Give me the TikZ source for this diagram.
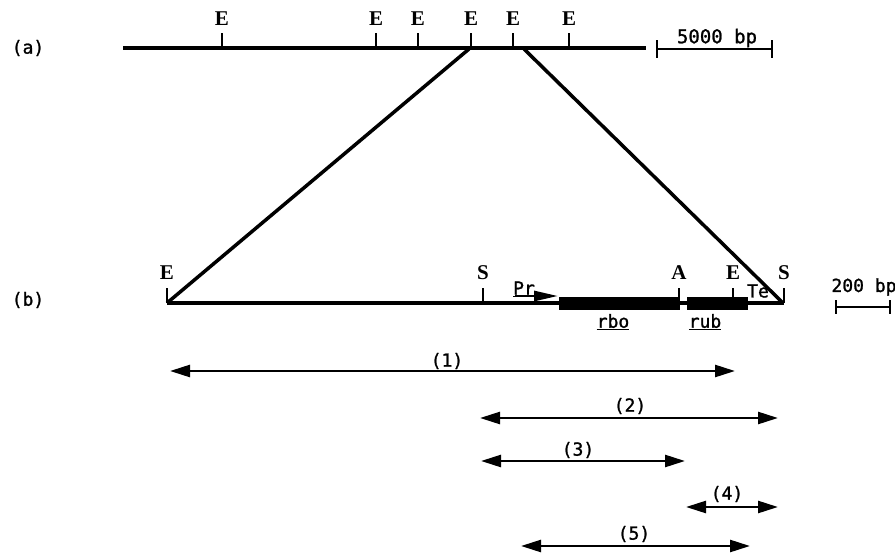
\documentclass[tikz,border=0pt]{standalone}
\usepackage{fontspec}
\setmainfont{Liberation Serif}
\newfontfamily\lblfont[FakeBold=1.2]{DejaVu Sans Mono}
\usetikzlibrary{arrows.meta,calc}
\begin{document}
\begin{tikzpicture}[x=1pt,y=-1pt,
  mainline/.style={line width=4.2pt},
  zoomline/.style={line width=3.5pt},
  tick/.style={line width=2.6pt},
  site/.style={font=\bfseries\fontsize{21}{21}\selectfont, inner sep=0pt},
  lbl/.style={font=\lblfont\fontsize{19}{19}\selectfont, inner sep=0pt},
  small/.style={font=\lblfont\fontsize{18}{18}\selectfont, inner sep=0pt},
  num/.style={font=\lblfont\fontsize{18}{18}\selectfont, inner sep=0pt},
  frag/.style={line width=2.5pt, {Triangle[length=20pt,width=12pt]}-{Triangle[length=20pt,width=12pt]}},
  gene/.style={fill=black, draw=none}]
\useasboundingbox (0,0) rectangle (895,554);
% (a)
\node[small] (la) at (28,48) {(a)};
\coordinate (a0) at (123,48);
\coordinate (a1) at (646,48);
\draw[mainline] (a0) -- (a1);
\foreach \x/\n in {222/1,376/2,418/3,471/4,513/5,569/6}{
  \coordinate (t\n) at (\x,48);
  \draw[tick] (t\n) -- ++(0,-15);
  \node[site] (e\n) at (\x,19) {E};
}
% scale 5000 bp
\coordinate (s0) at (657,49);
\coordinate (s1) at (772,49);
\draw[tick] (s0) -- (s1);
\draw[tick] ($(s0)+(0,-9)$) -- ($(s0)+(0,9)$);
\draw[tick] ($(s1)+(0,-9)$) -- ($(s1)+(0,9)$);
\node[lbl] (sl) at (717,38) {5000 bp};
% (b)
\node[small] (lb) at (28,300) {(b)};
\coordinate (b0) at (167,303);
\coordinate (b1) at (784,303);
\draw[mainline] (b0) -- (b1);
% zoom lines
\coordinate (z0) at (469,49);
\coordinate (z1) at (524,49);
\draw[zoomline] (z0) -- (b0);
\draw[zoomline] (z1) -- (782,302);
% sites on b
\foreach \x/\l/\n in {167/E/1,483/S/2,679/A/3,733/E/4,784/S/5}{
  \coordinate (u\n) at (\x,303);
  \draw[tick] (u\n) -- ++(0,-15);
  \node[site] (f\n) at (\x,273) {\l};
}
% genes
\fill[gene] (559,297) rectangle (680,310);
\fill[gene] (687,297) rectangle (748,310);
\node[small] (rbo) at (613,322) {\underline{rbo}};
\node[small] (rub) at (705,322) {\underline{rub}};
% promoter
\coordinate (p0) at (515,296);
\coordinate (p1) at (558,296);
\draw[line width=2.8pt, -{Triangle[length=24pt,width=10pt]}] (p0) -- (p1);
\node[small] (pr) at (524,289) {\underline{Pr}};
\node[small] (te) at (758,291) {Te};
% scale 200 bp
\coordinate (c0) at (836,307);
\coordinate (c1) at (890,307);
\draw[tick] (c0) -- (c1);
\draw[tick] ($(c0)+(0,-7)$) -- ($(c0)+(0,7)$);
\draw[tick] ($(c1)+(0,-7)$) -- ($(c1)+(0,7)$);
\node[small] (cl) at (864,287) {200 bp};
% fragments
\coordinate (r1a) at (170,371); \coordinate (r1b) at (735,371);
\draw[frag] (r1a) -- (r1b);
\node[num] (n1) at (447,361) {(1)};
\coordinate (r2a) at (480,418); \coordinate (r2b) at (778,418);
\draw[frag] (r2a) -- (r2b);
\node[num] (n2) at (630,406) {(2)};
\coordinate (r3a) at (481,461); \coordinate (r3b) at (685,461);
\draw[frag] (r3a) -- (r3b);
\node[num] (n3) at (578,450) {(3)};
\coordinate (r4a) at (686,507); \coordinate (r4b) at (778,507);
\draw[frag] (r4a) -- (r4b);
\node[num] (n4) at (727,494) {(4)};
\coordinate (r5a) at (521,546); \coordinate (r5b) at (750,546);
\draw[frag] (r5a) -- (r5b);
\node[num] (n5) at (634,534) {(5)};
\end{tikzpicture}
\end{document}
